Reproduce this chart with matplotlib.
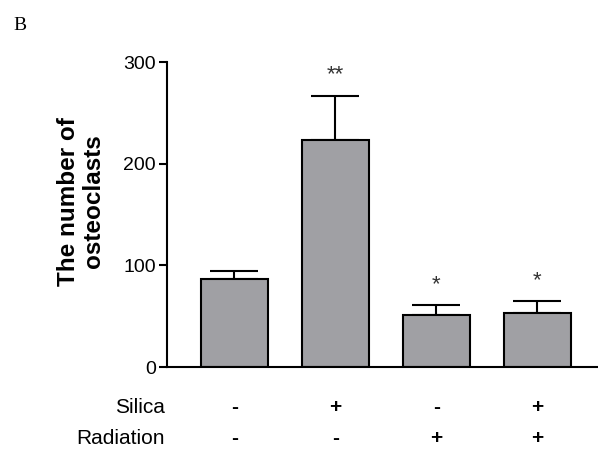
import numpy as np
import matplotlib.pyplot as plt

plt.rcParams['font.family'] = ['Liberation Sans', 'DejaVu Sans']

# data
groups = ['1', '2', '3', '4']
means = [86.5, 223, 51.5, 53.5]
errs = [7.5, 44, 9.5, 11.5]
stars = ['', '**', '*', '*']
silica = ['-', '+', '-', '+']
radiation = ['-', '-', '+', '+']

fig = plt.figure(figsize=(5.98, 4.55), dpi=100)
ax = fig.add_axes([0.279, 0.1934, 0.721, 0.6703])

x = np.arange(len(groups))
ax.bar(x, means, width=0.66, color='#a0a0a4', edgecolor='black', linewidth=1.5, zorder=2)
ax.errorbar(x, means, yerr=[np.zeros(len(errs)), errs], fmt='none', ecolor='black',
            elinewidth=1.5, capsize=17, capthick=1.5, zorder=1)
for xi, m, e, s in zip(x, means, errs, stars):
    if s:
        ax.text(xi, m + e + 10, s, ha='center', va='bottom', fontsize=16, color='#333333')

ax.set_xlim(-0.668, 3.6)
ax.set_ylim(0, 300)
ax.set_yticks([0, 100, 200, 300])
ax.set_xticks([])
ax.tick_params(axis='y', labelsize=14, width=1.5, length=6, pad=2)
for side in ['top', 'right']:
    ax.spines[side].set_visible(False)
ax.spines['left'].set_linewidth(1.5)
ax.spines['bottom'].set_linewidth(1.5)
ax.set_ylabel('The number of\nosteoclasts', fontsize=17.5, fontweight='bold', linespacing=1.1)
ax.yaxis.set_label_coords(-0.144, 0.544)

# treatment table under the axis
for row, (name, signs) in enumerate([('Silica', silica), ('Radiation', radiation)]):
    yy = -40 - row * 30
    ax.text(-0.69, yy, name, ha='right', va='center', fontsize=15, clip_on=False)
    for xi, s in zip(x, signs):
        ax.text(xi, yy, s, ha='center', va='center', fontsize=15, fontweight='bold', clip_on=False)

fig.text(0.023, 0.945, 'B', fontsize=14, family='Liberation Serif', va='center')

fig.savefig('out.png', dpi=100)
